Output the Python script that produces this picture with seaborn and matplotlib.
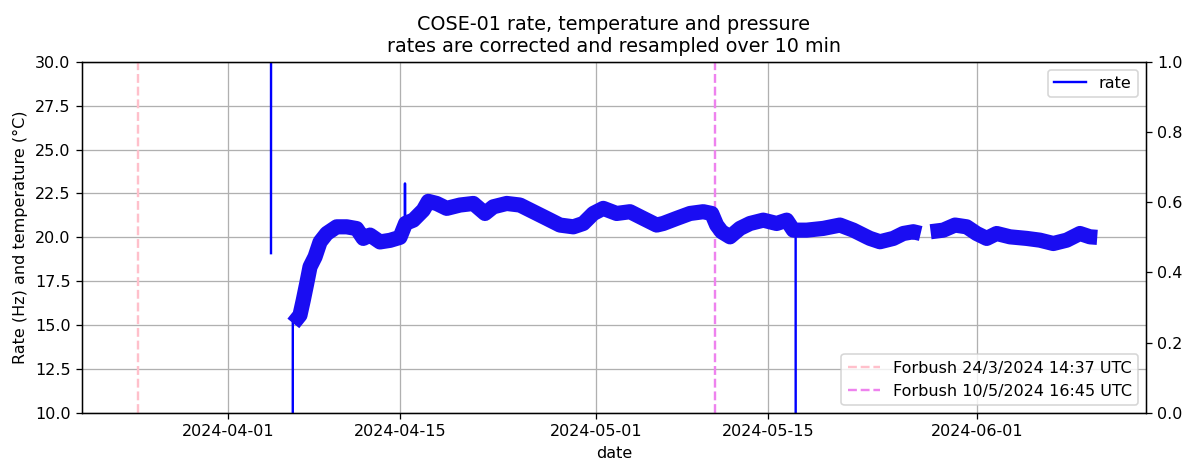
import matplotlib
matplotlib.use("Agg")
import matplotlib.pyplot as plt
import matplotlib.dates as mdates
from matplotlib.lines import Line2D
import numpy as np
import pandas as pd
import seaborn as sns

plt.style.use("default")

# ---- data ----
# main rate band (resampled 10-min rate, trend), two segments (gap late May)
seg1_dates = [
    "2024-04-06 07:12", "2024-04-06 20:10", "2024-04-07 02:38", "2024-04-07 09:22",
    "2024-04-07 15:50", "2024-04-08 01:41", "2024-04-08 11:31", "2024-04-09 00:29",
    "2024-04-09 19:55", "2024-04-10 15:36", "2024-04-11 11:02", "2024-04-12 00:00",
    "2024-04-12 13:12", "2024-04-13 08:38", "2024-04-14 04:19", "2024-04-14 23:46",
    "2024-04-15 10:48", "2024-04-16 01:55", "2024-04-16 21:22", "2024-04-17 07:12",
    "2024-04-17 23:31", "2024-04-18 19:12", "2024-04-19 21:07", "2024-04-20 23:17",
    "2024-04-21 22:05", "2024-04-22 14:24", "2024-04-23 16:34", "2024-04-24 18:29",
    "2024-04-25 20:38", "2024-04-26 22:48", "2024-04-28 00:43", "2024-04-29 02:53",
    "2024-04-29 22:19", "2024-04-30 18:00", "2024-05-01 13:26", "2024-05-02 15:36",
    "2024-05-03 17:46", "2024-05-04 19:41", "2024-05-05 21:50", "2024-05-06 10:48",
    "2024-05-07 12:58", "2024-05-08 15:07", "2024-05-09 17:02", "2024-05-10 09:36",
    "2024-05-10 19:12", "2024-05-11 05:02", "2024-05-11 21:22", "2024-05-12 16:48",
    "2024-05-13 12:29", "2024-05-14 14:24", "2024-05-15 16:34", "2024-05-16 12:14",
    "2024-05-17 01:12", "2024-05-18 03:22", "2024-05-19 11:46", "2024-05-20 20:24",
    "2024-05-21 22:34", "2024-05-23 00:43", "2024-05-23 07:12", "2024-05-24 02:38",
    "2024-05-25 04:48", "2024-05-26 00:14", "2024-05-26 19:55", "2024-05-27 10:19",
]
seg1_rate = [
    15.10, 15.57, 16.42, 17.37,
    18.32, 18.89, 19.74, 20.22,
    20.60, 20.60, 20.50, 19.94,
    20.13, 19.74, 19.83, 20.00,
    20.80, 20.98, 21.55, 22.05,
    21.93, 21.65, 21.84, 21.93,
    21.36, 21.74, 21.93, 21.84,
    21.46, 21.08, 20.70, 20.60,
    20.79, 21.36, 21.65, 21.36,
    21.46, 21.08, 20.70, 20.79,
    21.08, 21.36, 21.46, 21.36,
    20.70, 20.32, 20.03, 20.51,
    20.79, 20.98, 20.79, 20.98,
    20.41, 20.41, 20.51, 20.70,
    20.41, 20.03, 19.94, 19.75,
    19.94, 20.22, 20.32, 20.22,
]
seg2_dates = [
    "2024-05-28 05:46", "2024-05-29 06:29", "2024-05-30 05:31", "2024-05-31 04:19",
    "2024-05-31 23:46", "2024-06-01 19:26", "2024-06-02 14:53", "2024-06-03 17:02",
    "2024-06-05 01:41", "2024-06-06 03:36", "2024-06-07 05:46", "2024-06-08 07:55",
    "2024-06-09 09:50", "2024-06-10 05:31", "2024-06-10 19:41",
]
seg2_rate = [
    20.32, 20.41, 20.70, 20.60,
    20.22, 19.94, 20.22, 20.03,
    19.94, 19.84, 19.65, 19.84,
    20.22, 20.03, 20.00,
]

# isolated excursions of the rate (outliers / drop-outs)
spike_dates = [
    ["2024-04-04 11:30", "2024-04-04 11:40"],
    ["2024-04-06 06:00", "2024-04-06 06:10"],
    ["2024-04-15 09:26", "2024-04-15 09:36", "2024-04-15 09:46"],
    ["2024-05-17 05:45", "2024-05-17 05:55"],
]
spike_rate = [
    [19.1, 40.0],
    [0.0, 15.3],
    [20.0, 23.07, 20.8],
    [20.4, 0.0],
]

forbush_dates = ["2024-03-24 14:37", "2024-05-10 16:45"]
forbush_labels = ["Forbush 24/3/2024 14:37 UTC", "Forbush 10/5/2024 16:45 UTC"]
forbush_colors = ["pink", "violet"]

xtick_labels = ["2024-04-01", "2024-04-15", "2024-05-01", "2024-05-15", "2024-06-01"]
x_limits = ["2024-03-20 01:12", "2024-06-14 19:00"]

# ---- build frames ----
band = pd.DataFrame({
    "date": pd.to_datetime(seg1_dates + seg2_dates),
    "rate": seg1_rate + seg2_rate,
    "seg": [0] * len(seg1_dates) + [1] * len(seg2_dates),
})
sp_rows = []
for i, (ds, vs) in enumerate(zip(spike_dates, spike_rate)):
    for d, v in zip(ds, vs):
        sp_rows.append({"date": pd.Timestamp(d), "rate": v, "seg": i})
spikes = pd.DataFrame(sp_rows)

# ---- figure ----
DPI = 115
fig = plt.figure(figsize=(1189 / DPI, 464 / DPI), dpi=DPI)
ax = fig.add_axes([0.0687, 0.1099, 0.8951, 0.7571])

vlines = []
for d, lab, c in zip(forbush_dates, forbush_labels, forbush_colors):
    vlines.append(ax.axvline(pd.Timestamp(d), color=c, ls="--", lw=1.5, label=lab, zorder=1.8))

sns.lineplot(data=spikes, x="date", y="rate", units="seg", estimator=None,
             color="blue", lw=1.5, ax=ax, legend=False, sort=False)
sns.lineplot(data=band, x="date", y="rate", units="seg", estimator=None,
             color="#1a0df2", lw=9.5, ax=ax, legend=False, sort=False,
             solid_capstyle="butt", solid_joinstyle="round")

ax.set_ylim(10, 30)
ax.set_yticks(np.arange(10, 30.01, 2.5))
ax.set_xlim(pd.Timestamp(x_limits[0]), pd.Timestamp(x_limits[1]))
ax.set_xticks(pd.to_datetime(xtick_labels))
ax.xaxis.set_major_formatter(mdates.DateFormatter("%Y-%m-%d"))
ax.grid(True)
ax.set_xlabel("date")
ax.set_ylabel("Rate (Hz) and temperature (°C)")
ax.set_title("COSE-01 rate, temperature and pressure\nrates are corrected and resampled over 10 min")

ax.legend(handles=[Line2D([], [], color="blue", lw=1.5, label="rate")], loc="upper right")

ax2 = ax.twinx()
ax2.set_ylim(0, 1)
ax2.legend(handles=vlines, loc="lower right")

fig.savefig("out.png", dpi=DPI)
